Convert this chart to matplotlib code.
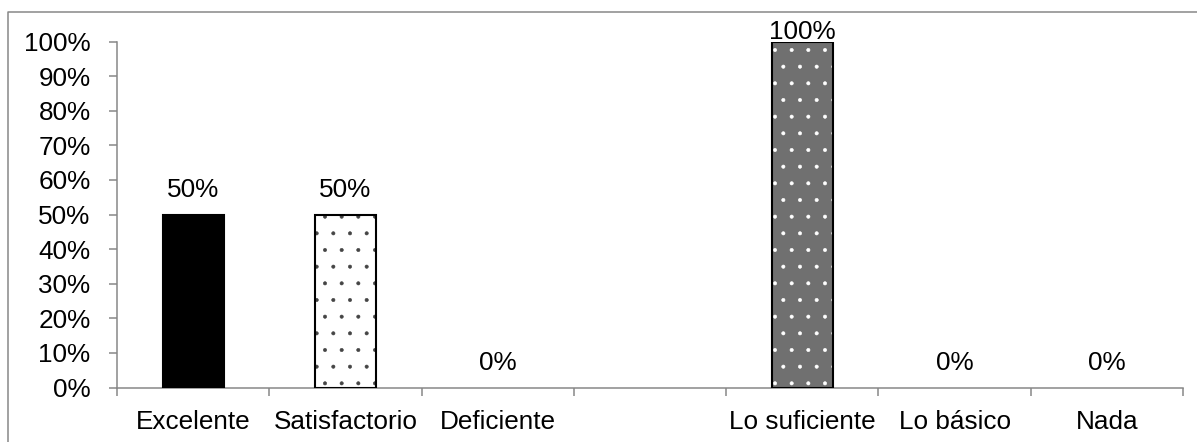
import matplotlib
matplotlib.use("Agg")
import matplotlib.pyplot as plt
from matplotlib.lines import Line2D
from matplotlib.ticker import FixedLocator, NullFormatter

plt.rcParams["font.family"] = ["Liberation Sans", "DejaVu Sans"]
plt.rcParams["hatch.linewidth"] = 0.4

# Survey results (percent of respondents)
categories = ["Excelente", "Satisfactorio", "Deficiente", "",
              "Lo suficiente", "Lo básico", "Nada"]
values = [50, 50, 0, None, 100, 0, 0]
y_ticks = list(range(0, 101, 10))

FS = 18.8
GRAY = "#878787"

fig = plt.figure(figsize=(11.97, 4.42), dpi=100)
W, H = 1197, 442
ax = fig.add_axes([117 / W, 1 - 387.5 / H, (1183 - 117) / W, (387.5 - 41.5) / H])

x = list(range(len(categories)))
bar_w = 0.40

# per-category fill: (face colour, hatch, hatch colour)
fills = {
    0: ("black", None, "black"),
    1: ("white", ".", "#444444"),
    4: ("#707070", ".", "white"),
}

for i, v in enumerate(values):
    if v is None:
        continue
    if v > 0:
        face, hatch, hcol = fills.get(i, ("black", None, "black"))
        ax.bar(x[i], v, width=bar_w, facecolor=face, edgecolor=hcol,
               linewidth=0, hatch=hatch, zorder=2)
        ax.bar(x[i], v, width=bar_w, fill=False, edgecolor="black",
               linewidth=1.5, zorder=3)
    off = 12.5 if v < 100 else 1.5
    ax.annotate(f"{v}%", (x[i], v), xytext=(0, off), textcoords="offset points",
                ha="center", va="baseline", fontsize=FS, color="black",
                annotation_clip=False, zorder=4)

ax.set_xlim(-0.5, len(categories) - 0.5)
ax.set_ylim(0, 100)

ax.set_yticks(y_ticks)
ax.set_yticklabels([f"{t}%" for t in y_ticks], fontsize=FS)
ax.tick_params(axis="y", length=6, width=1.1, color=GRAY, pad=13)

# category boundaries carry the tick marks, centres carry the names
ax.xaxis.set_major_locator(FixedLocator([k - 0.5 for k in range(len(categories) + 1)]))
ax.xaxis.set_major_formatter(NullFormatter())
ax.xaxis.set_minor_locator(FixedLocator(x))
ax.set_xticklabels(categories, minor=True, fontsize=FS)
ax.tick_params(axis="x", which="major", length=6, width=1.1, color=GRAY)
ax.tick_params(axis="x", which="minor", length=0, pad=16)

for side in ("top", "right"):
    ax.spines[side].set_visible(False)
for side in ("left", "bottom"):
    ax.spines[side].set_color(GRAY)
    ax.spines[side].set_linewidth(1.1)

# outer chart frame
bx, by = 7.5 / W, 1 - 11.5 / H
fig.add_artist(Line2D([bx, bx, 1.0], [0.0, by, by], transform=fig.transFigure,
                      color=GRAY, linewidth=1.1))

fig.savefig("out.png", dpi=100)
